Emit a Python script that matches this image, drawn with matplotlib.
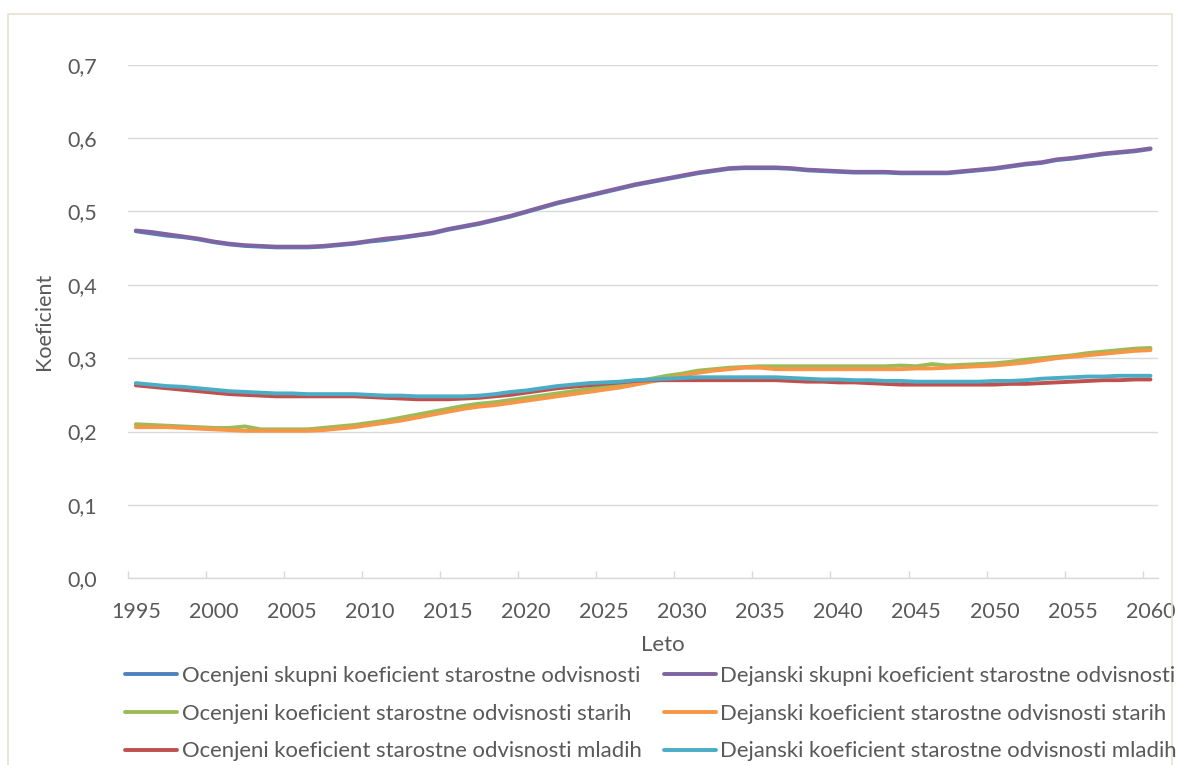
import matplotlib
matplotlib.use("Agg")
import matplotlib.pyplot as plt
from matplotlib.patches import Rectangle
from matplotlib.ticker import FixedLocator, FuncFormatter

years = list(range(1995, 2061))

dejanski_skupni = [
    0.474, 0.472, 0.469, 0.466, 0.463, 0.459, 0.456, 0.454, 0.453, 0.452,
    0.452, 0.452, 0.453, 0.455, 0.457, 0.460, 0.463, 0.465, 0.468, 0.471,
    0.476, 0.480, 0.484, 0.489, 0.494, 0.500, 0.506, 0.512, 0.517, 0.522,
    0.527, 0.532, 0.537, 0.541, 0.545, 0.549, 0.553, 0.556, 0.559, 0.560,
    0.560, 0.560, 0.559, 0.557, 0.556, 0.555, 0.554, 0.554, 0.554, 0.553,
    0.553, 0.553, 0.553, 0.555, 0.557, 0.559, 0.562, 0.565, 0.567, 0.571,
    0.573, 0.576, 0.579, 0.581, 0.583, 0.586,
]
ocenjeni_skupni = [
    0.473, 0.470, 0.467, 0.465, 0.462, 0.458, 0.455, 0.453, 0.452, 0.451,
    0.451, 0.451, 0.452, 0.454, 0.456, 0.459, 0.461, 0.464, 0.467, 0.470,
    0.475, 0.479, 0.483, 0.488, 0.493, 0.499, 0.505, 0.511, 0.516, 0.521,
    0.526, 0.531, 0.536, 0.540, 0.544, 0.548, 0.552, 0.555, 0.558, 0.559,
    0.559, 0.559, 0.558, 0.556, 0.555, 0.554, 0.553, 0.553, 0.553, 0.552,
    0.552, 0.552, 0.552, 0.554, 0.556, 0.558, 0.561, 0.564, 0.566, 0.570,
    0.572, 0.575, 0.578, 0.580, 0.582, 0.585,
]
ocenjeni_starih = [
    0.210, 0.209, 0.208, 0.207, 0.206, 0.205, 0.205, 0.207, 0.203, 0.203,
    0.203, 0.203, 0.205, 0.207, 0.209, 0.212, 0.215, 0.219, 0.223, 0.227,
    0.231, 0.235, 0.238, 0.240, 0.243, 0.246, 0.249, 0.252, 0.255, 0.258,
    0.261, 0.264, 0.268, 0.272, 0.276, 0.279, 0.283, 0.285, 0.287, 0.288,
    0.289, 0.289, 0.289, 0.289, 0.289, 0.289, 0.289, 0.289, 0.289, 0.290,
    0.289, 0.292, 0.290, 0.291, 0.292, 0.293, 0.295, 0.298, 0.300, 0.302,
    0.304, 0.307, 0.309, 0.311, 0.313, 0.314,
]
dejanski_starih = [
    0.206, 0.206, 0.206, 0.205, 0.204, 0.203, 0.202, 0.201, 0.201, 0.201,
    0.201, 0.201, 0.202, 0.204, 0.206, 0.209, 0.212, 0.215, 0.219, 0.223,
    0.227, 0.231, 0.234, 0.236, 0.239, 0.242, 0.245, 0.248, 0.251, 0.254,
    0.257, 0.260, 0.264, 0.268, 0.272, 0.276, 0.280, 0.283, 0.285, 0.287,
    0.287, 0.285, 0.285, 0.285, 0.285, 0.285, 0.285, 0.285, 0.285, 0.285,
    0.286, 0.286, 0.287, 0.288, 0.289, 0.290, 0.292, 0.294, 0.297, 0.300,
    0.302, 0.304, 0.306, 0.308, 0.310, 0.311,
]
ocenjeni_mladih = [
    0.263, 0.261, 0.259, 0.257, 0.255, 0.253, 0.251, 0.250, 0.249, 0.248,
    0.248, 0.248, 0.248, 0.248, 0.248, 0.247, 0.246, 0.245, 0.244, 0.244,
    0.244, 0.245, 0.246, 0.248, 0.250, 0.253, 0.256, 0.259, 0.261, 0.263,
    0.265, 0.267, 0.269, 0.270, 0.270, 0.270, 0.270, 0.270, 0.270, 0.270,
    0.270, 0.270, 0.269, 0.268, 0.268, 0.267, 0.267, 0.266, 0.265, 0.264,
    0.264, 0.264, 0.264, 0.264, 0.264, 0.264, 0.265, 0.265, 0.266, 0.267,
    0.268, 0.269, 0.270, 0.270, 0.271, 0.271,
]
dejanski_mladih = [
    0.266, 0.264, 0.262, 0.261, 0.259, 0.257, 0.255, 0.254, 0.253, 0.252,
    0.252, 0.251, 0.251, 0.251, 0.251, 0.250, 0.249, 0.249, 0.248, 0.248,
    0.248, 0.248, 0.249, 0.251, 0.254, 0.256, 0.259, 0.262, 0.264, 0.266,
    0.267, 0.268, 0.270, 0.271, 0.272, 0.273, 0.274, 0.274, 0.274, 0.274,
    0.274, 0.274, 0.273, 0.272, 0.271, 0.271, 0.270, 0.270, 0.269, 0.269,
    0.268, 0.268, 0.268, 0.268, 0.268, 0.269, 0.269, 0.270, 0.272, 0.273,
    0.274, 0.275, 0.275, 0.276, 0.276, 0.276,
]

y_ticks = [0.0, 0.1, 0.2, 0.3, 0.4, 0.5, 0.6, 0.7]
x_label_years = list(range(1995, 2061, 5))

TEXT = "#595959"
GRID = "#D9D9D9"

plt.rcParams["font.family"] = ["Lato", "DejaVu Sans"]

W, H = 1177, 765
fig = plt.figure(figsize=(W / 100, H / 100), dpi=100)
fig.patch.set_facecolor("white")

# chart-area frame
fig.patches.append(Rectangle((8 / W, -0.01), (1172 - 8) / W, 1 - 14 / H + 0.01,
                             transform=fig.transFigure, fill=False,
                             edgecolor="#E6E2D6", linewidth=1.2))

left, right = 128 / W, 1158.3 / W
top, bottom = 1 - 64.7 / H, 1 - 578.3 / H
ax = fig.add_axes([left, bottom, right - left, top - bottom])

series = [
    ("Ocenjeni skupni koeficient starostne odvisnosti", ocenjeni_skupni, "#4F81BD"),
    ("Dejanski skupni koeficient starostne odvisnosti", dejanski_skupni, "#8064A2"),
    ("Ocenjeni koeficient starostne odvisnosti starih", ocenjeni_starih, "#9BBB59"),
    ("Dejanski koeficient starostne odvisnosti starih", dejanski_starih, "#F79646"),
    ("Ocenjeni koeficient starostne odvisnosti mladih", ocenjeni_mladih, "#C0504D"),
    ("Dejanski koeficient starostne odvisnosti mladih", dejanski_mladih, "#4BACC6"),
]
handles = {}
for name, vals, col in series:
    (ln,) = ax.plot(years, vals, color=col, lw=2.8, solid_capstyle="round",
                    solid_joinstyle="round", label=name)
    handles[name] = ln

ax.set_xlim(1994.5, 2060.5)
ax.set_ylim(0, 0.7)
ax.set_yticks(y_ticks)
ax.yaxis.set_major_formatter(FuncFormatter(lambda v, p: f"{v:.1f}".replace(".", ",")))
ax.grid(axis="y", color=GRID, lw=1.0)
ax.set_axisbelow(True)

ax.xaxis.set_major_locator(FixedLocator(x_label_years))
ax.xaxis.set_minor_locator(FixedLocator([1994.5 + 5 * k for k in range(14)]))
ax.tick_params(axis="x", which="major", length=0, pad=17, labelsize=15.5, labelcolor=TEXT)
ax.tick_params(axis="x", which="minor", length=5, direction="in", color=GRID, width=1)
ax.tick_params(axis="y", length=0, pad=22, labelsize=15.5, labelcolor=TEXT)

for s in ("top", "right", "left"):
    ax.spines[s].set_visible(False)
ax.spines["bottom"].set_color(GRID)
ax.spines["bottom"].set_linewidth(1.0)

ax.set_ylabel("Koeficient", fontsize=15.5, color=TEXT, labelpad=10)
fig.text(663 / W, 1 - 645 / H, "Leto", fontsize=16, color=TEXT, ha="center", va="center")

order = [series[i][0] for i in (0, 2, 4, 1, 3, 5)]
fig.legend([handles[n] for n in order], order, ncol=2, frameon=False,
           loc="upper left", bbox_to_anchor=(125 / W, 1 - 666 / H),
           fontsize=15.9, labelcolor=TEXT, handlelength=2.35, handletextpad=0.22,
           columnspacing=1.0, labelspacing=0.8, borderaxespad=0, borderpad=0)

fig.savefig("out.png", dpi=100, facecolor="white")
